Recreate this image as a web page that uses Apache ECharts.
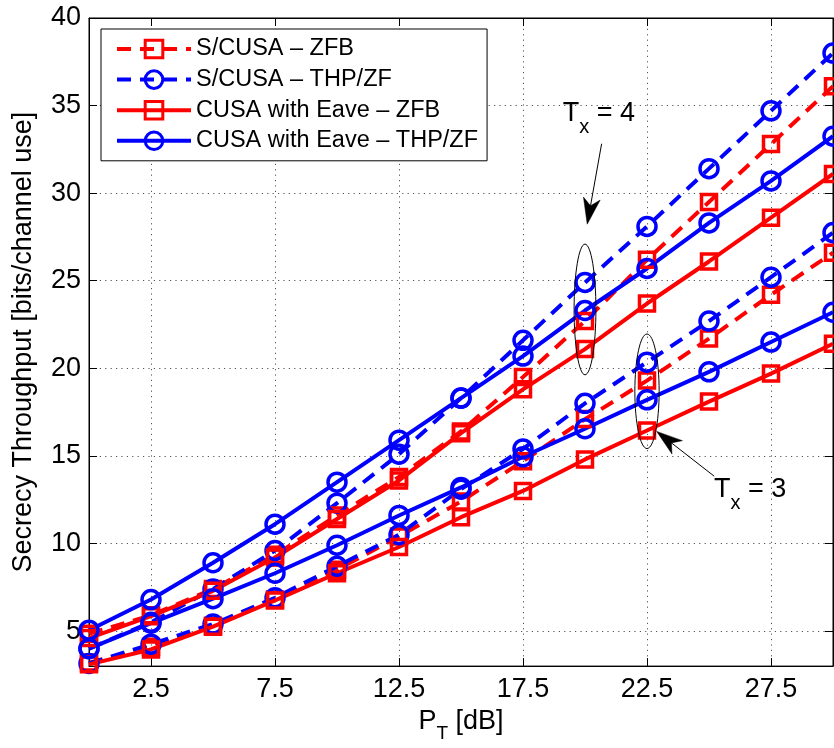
<!DOCTYPE html>
<html>
<head>
<meta charset="utf-8">
<script src="https://cdn.jsdelivr.net/npm/echarts@6/dist/echarts.min.js"></script>
<style>
  html, body { margin: 0; padding: 0; background: #ffffff; }
  #chart { width: 834px; height: 748px; }
</style>
</head>
<body>
<div id="chart"></div>
<script>
// Transmit power P_T in dB (x values of every curve)
const powerDb = [0, 2.5, 5, 7.5, 10, 12.5, 15, 17.5, 20, 22.5, 25, 27.5, 30];
const xTickValues = [2.5, 7.5, 12.5, 17.5, 22.5, 27.5];
const yTickValues = [5, 10, 15, 20, 25, 30, 35, 40];

const seriesNames = ['S/CUSA – ZFB', 'S/CUSA – THP/ZF', 'CUSA with Eave – ZFB', 'CUSA with Eave – THP/ZF'];

// Secrecy throughput, T_x = 4
const scusaZfbTx4 = [4.85, 5.9, 7.4, 9.35, 11.6, 13.8, 16.4, 19.5, 22.7, 26.2, 29.5, 32.8, 36.1];
const scusaThpTx4 = [4.0, 5.5, 7.4, 9.6, 12.3, 15.1, 18.3, 21.6, 24.9, 28.1, 31.4, 34.7, 38.0];
const cusaZfbTx4 = [4.6, 5.85, 7.3, 9.2, 11.4, 13.6, 16.3, 18.8, 21.1, 23.7, 26.1, 28.6, 31.1];
const cusaThpTx4 = [5.05, 6.8, 8.9, 11.1, 13.5, 15.9, 18.3, 20.7, 23.3, 25.7, 28.3, 30.7, 33.25];

// Secrecy throughput, T_x = 3
const scusaZfbTx3 = [3.2, 4.1, 5.3, 6.8, 8.5, 10.4, 12.4, 14.7, 17.1, 19.3, 21.7, 24.2, 26.6];
const scusaThpTx3 = [3.15, 4.25, 5.4, 6.9, 8.7, 10.5, 13.1, 15.4, 18.0, 20.35, 22.7, 25.2, 27.75];
const cusaZfbTx3 = [3.1, 3.95, 5.25, 6.75, 8.3, 9.8, 11.5, 13.0, 14.8, 16.45, 18.1, 19.7, 21.4];
const cusaThpTx3 = [4.0, 5.45, 6.85, 8.3, 9.9, 11.6, 13.2, 14.95, 16.55, 18.2, 19.8, 21.5, 23.2];

// Annotation anchors in data coordinates
const tx4Label = [19.1, 35.3];
const tx4ArrowTail = [20.67, 32.82];
const tx4ArrowTip = [20.09, 28.23];
const tx4Ellipse = { cx: 20, cy: 23.36, rx: 0.44, ry: 3.73 };
const tx3Label = [25.2, 13.83];
const tx3ArrowTail = [25.21, 13.84];
const tx3ArrowTip = [22.89, 16.40];
const tx3Ellipse = { cx: 22.5, cy: 18.69, rx: 0.49, ry: 3.27 };

const FONT = '"Liberation Sans", Arial, Helvetica, sans-serif';
const RED = '#ff0000';
const BLUE = '#0000ff';
const DASH = [14, 9];
const GRID_DOTS = [1.2, 4.2];

function makeSeries(name, values, color, dashed, symbol) {
  return {
    name: name,
    type: 'line',
    data: powerDb.map((x, i) => [x, values[i]]),
    symbol: symbol,
    symbolSize: symbol === 'circle' ? 18 : 15,
    showSymbol: true,
    clip: false,
    lineStyle: { color: color, width: 4, type: dashed ? DASH : 'solid' },
    itemStyle: { color: 'rgba(0,0,0,0)', borderColor: color, borderWidth: 3.5 },
    emphasis: { disabled: true },
    animation: false
  };
}

const series = [
  makeSeries(seriesNames[0], scusaZfbTx4, RED, true, 'rect'),
  makeSeries(seriesNames[1], scusaThpTx4, BLUE, true, 'circle'),
  makeSeries(seriesNames[2], cusaZfbTx4, RED, false, 'rect'),
  makeSeries(seriesNames[3], cusaThpTx4, BLUE, false, 'circle'),
  makeSeries(seriesNames[0], scusaZfbTx3, RED, true, 'rect'),
  makeSeries(seriesNames[1], scusaThpTx3, BLUE, true, 'circle'),
  makeSeries(seriesNames[2], cusaZfbTx3, RED, false, 'rect'),
  makeSeries(seriesNames[3], cusaThpTx3, BLUE, false, 'circle')
];

const axisLineStyle = { show: true, onZero: false, lineStyle: { color: '#000', width: 1 } };
const gridLineStyle = { show: true, lineStyle: { color: '#555', width: 1, type: GRID_DOTS } };

const chart = echarts.init(document.getElementById('chart'), null, { renderer: 'canvas' });

chart.setOption({
  animation: false,
  backgroundColor: '#ffffff',
  grid: { left: 89, right: 1, top: 18, bottom: 80, show: true, borderColor: '#000', borderWidth: 1 },
  legend: {
    data: seriesNames,
    orient: 'vertical',
    left: 101,
    top: 29,
    padding: [8, 9, 8, 14],
    itemWidth: 74,
    itemHeight: 22,
    itemGap: 6.6,
    selectedMode: false,
    backgroundColor: '#ffffff',
    borderColor: '#000',
    borderWidth: 1,
    borderRadius: 0,
    itemStyle: { borderWidth: 3 },
    lineStyle: { width: 4 },
    textStyle: { color: '#000', fontSize: 23.5, fontFamily: FONT },
    z: 10
  },
  xAxis: [
    {
      type: 'value', min: 0, max: 30, position: 'bottom',
      axisLine: axisLineStyle,
      axisTick: { show: true, inside: true, length: 8, customValues: xTickValues, lineStyle: { color: '#000' } },
      axisLabel: { customValues: xTickValues, color: '#000', fontSize: 27, fontFamily: FONT, margin: 10 },
      splitLine: gridLineStyle,
      name: '{p|P}{s|T}{p| [dB]}',
      nameLocation: 'middle',
      nameGap: 37,
      nameTextStyle: {
        rich: {
          p: { fontSize: 27, fontFamily: FONT, color: '#000', lineHeight: 30, verticalAlign: 'top' },
          s: { fontSize: 19, fontFamily: FONT, color: '#000', lineHeight: 20, padding: [16, 0, 0, 0], verticalAlign: 'top' }
        }
      }
    },
    {
      type: 'value', min: 0, max: 30, position: 'top',
      axisLine: axisLineStyle,
      axisTick: { show: true, inside: true, length: 8, customValues: xTickValues, lineStyle: { color: '#000' } },
      axisLabel: { show: false },
      splitLine: { show: false }
    }
  ],
  yAxis: [
    {
      type: 'value', min: 3, max: 40, position: 'left',
      axisLine: axisLineStyle,
      axisTick: { show: true, inside: true, length: 8, customValues: yTickValues, lineStyle: { color: '#000' } },
      axisLabel: { customValues: yTickValues, color: '#000', fontSize: 27, fontFamily: FONT, margin: 8 },
      splitLine: gridLineStyle,
      name: 'Secrecy Throughput [bits/channel use]',
      nameLocation: 'middle',
      nameGap: 52,
      nameTextStyle: { color: '#000', fontSize: 27, fontFamily: FONT }
    },
    {
      type: 'value', min: 3, max: 40, position: 'right',
      axisLine: axisLineStyle,
      axisTick: { show: true, inside: true, length: 8, customValues: yTickValues, lineStyle: { color: '#000' } },
      axisLabel: { show: false },
      splitLine: { show: false }
    }
  ],
  series: series
});

// Annotations: ellipses around the curve groups, arrows and T_x labels
function toPx(p) {
  return chart.convertToPixel({ xAxisIndex: 0, yAxisIndex: 0 }, p);
}

function ellipseShape(e) {
  const c = toPx([e.cx, e.cy]);
  const edge = toPx([e.cx + e.rx, e.cy + e.ry]);
  return {
    type: 'ellipse',
    shape: { cx: c[0], cy: c[1], rx: Math.abs(edge[0] - c[0]), ry: Math.abs(c[1] - edge[1]) },
    style: { fill: 'none', stroke: '#000', lineWidth: 1 },
    z: 20
  };
}

function arrowShapes(tailData, tipData) {
  const tail = toPx(tailData);
  const tip = toPx(tipData);
  const headLen = 26, headW = 17;
  const dx = tip[0] - tail[0], dy = tip[1] - tail[1];
  const len = Math.hypot(dx, dy);
  const ux = dx / len, uy = dy / len;
  const nx = -uy, ny = ux;
  const base = [tip[0] - ux * headLen, tip[1] - uy * headLen];
  const notch = [tip[0] - ux * headLen * 0.72, tip[1] - uy * headLen * 0.72];
  return [
    {
      type: 'line',
      shape: { x1: tail[0], y1: tail[1], x2: notch[0], y2: notch[1] },
      style: { stroke: '#000', lineWidth: 1 },
      z: 20
    },
    {
      type: 'polygon',
      shape: {
        points: [
          tip,
          [base[0] + nx * headW / 2, base[1] + ny * headW / 2],
          notch,
          [base[0] - nx * headW / 2, base[1] - ny * headW / 2]
        ]
      },
      style: { fill: '#000', stroke: '#000', lineWidth: 0.5 },
      z: 20
    }
  ];
}

function txLabel(anchor, count) {
  const p = toPx(anchor);
  return {
    type: 'text',
    x: p[0],
    y: p[1],
    style: {
      text: '{t|T}{s|x}{t| = ' + count + '}',
      verticalAlign: 'top',
      align: 'left',
      rich: {
        t: { fontSize: 27, fontFamily: FONT, fill: '#000', lineHeight: 30, verticalAlign: 'top' },
        s: { fontSize: 20, fontFamily: FONT, fill: '#000', lineHeight: 20, padding: [17, 0, 0, 0], verticalAlign: 'top' }
      }
    },
    z: 20
  };
}

chart.setOption({
  graphic: [
    ellipseShape(tx4Ellipse),
    ellipseShape(tx3Ellipse),
    ...arrowShapes(tx4ArrowTail, tx4ArrowTip),
    ...arrowShapes(tx3ArrowTail, tx3ArrowTip),
    txLabel(tx4Label, 4),
    txLabel(tx3Label, 3)
  ]
});
</script>
</body>
</html>
